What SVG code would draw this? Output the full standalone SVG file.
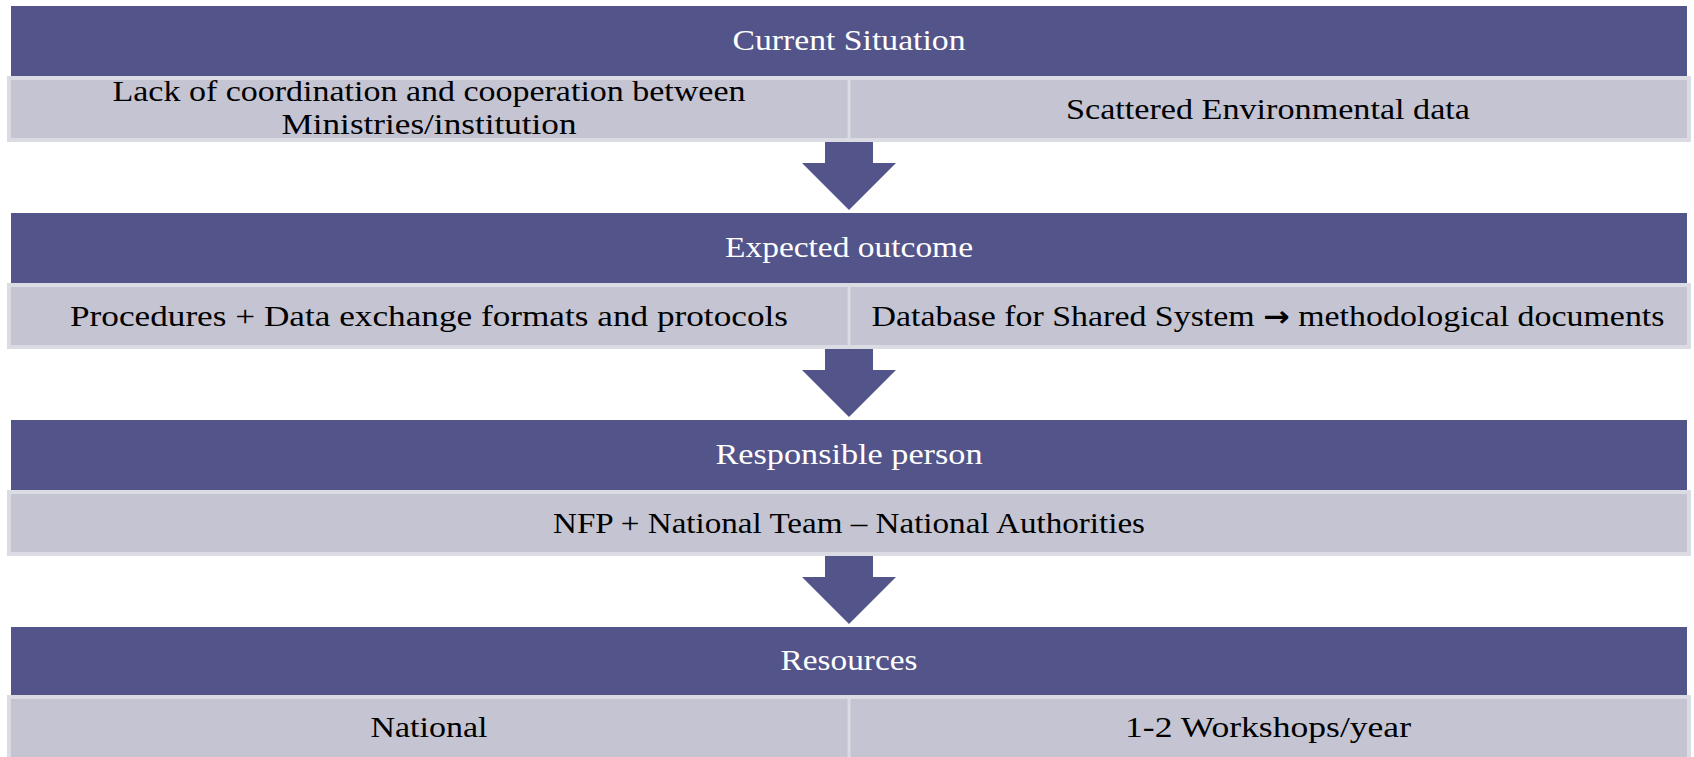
<svg xmlns="http://www.w3.org/2000/svg" width="1694" height="757" viewBox="0 0 1694 757">
<style>
.hdr{fill:#535489;}
.band{fill:#c4c4d2;stroke:#dbdbe3;stroke-width:4;}
.div{stroke:#dbdbe3;stroke-width:3;}
.arr{fill:#535489;}
text{font-family:"Liberation Serif","Times New Roman",serif;font-size:30px;text-anchor:middle;}
.ht{fill:#ffffff;}
.bt{fill:#000000;}
.sym{font-family:"DejaVu Sans",sans-serif;font-weight:bold;font-size:28px;}
</style>
<rect width="1694" height="757" fill="#ffffff"/>
<g id="connectors">
<path class="arr" d="M825,142 H873 V163 H896 L849,210 L802,163 H825 Z"/>
<path class="arr" d="M825,349 H873 V370 H896 L849,417 L802,370 H825 Z"/>
<path class="arr" d="M825,556 H873 V577 H896 L849,624 L802,577 H825 Z"/>
</g>
<g id="current-situation">
<rect class="hdr" x="11" y="6" width="1676" height="70"/>
<text class="ht" x="849" y="50" textLength="233" lengthAdjust="spacingAndGlyphs">Current Situation</text>
</g>
<g id="current-details">
<rect class="band" x="9" y="78" width="1680" height="62"/>
<line class="div" x1="849" y1="78" x2="849" y2="140"/>
<text class="bt" x="429" y="101" textLength="633" lengthAdjust="spacingAndGlyphs">Lack of coordination and cooperation between</text>
<text class="bt" x="429" y="134" textLength="295" lengthAdjust="spacingAndGlyphs">Ministries/institution</text>
<text class="bt" x="1268" y="119" textLength="404" lengthAdjust="spacingAndGlyphs">Scattered Environmental data</text>
</g>
<g id="expected-outcome">
<rect class="hdr" x="11" y="213" width="1676" height="70"/>
<text class="ht" x="849" y="257" textLength="248" lengthAdjust="spacingAndGlyphs">Expected outcome</text>
</g>
<g id="outcome-details">
<rect class="band" x="9" y="285" width="1680" height="62"/>
<line class="div" x1="849" y1="285" x2="849" y2="347"/>
<text class="bt" x="429" y="326" textLength="718" lengthAdjust="spacingAndGlyphs">Procedures + Data exchange formats and protocols</text>
<text class="bt" x="1268" y="326" textLength="793" lengthAdjust="spacingAndGlyphs">Database for Shared System <tspan class="sym">→</tspan> methodological documents</text>
</g>
<g id="responsible-person">
<rect class="hdr" x="11" y="420" width="1676" height="70"/>
<text class="ht" x="849" y="464" textLength="267" lengthAdjust="spacingAndGlyphs">Responsible person</text>
</g>
<g id="responsible-details">
<rect class="band" x="9" y="492" width="1680" height="62"/>
<text class="bt" x="849" y="533" textLength="592" lengthAdjust="spacingAndGlyphs">NFP + National Team – National Authorities</text>
</g>
<g id="resources">
<rect class="hdr" x="11" y="627" width="1676" height="68"/>
<text class="ht" x="849" y="670" textLength="137" lengthAdjust="spacingAndGlyphs">Resources</text>
</g>
<g id="resources-details">
<rect class="band" x="9" y="697" width="1680" height="66"/>
<line class="div" x1="849" y1="697" x2="849" y2="757"/>
<text class="bt" x="429" y="737" textLength="117" lengthAdjust="spacingAndGlyphs">National</text>
<text class="bt" x="1268" y="737" textLength="286" lengthAdjust="spacingAndGlyphs">1-2 Workshops/year</text>
</g>
</svg>
